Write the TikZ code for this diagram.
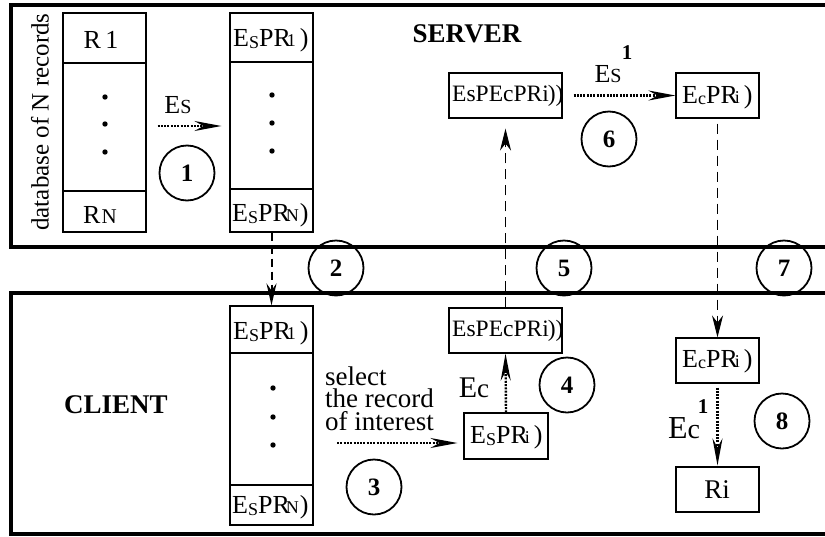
\documentclass[tikz,border=0pt]{standalone}
\usepackage{fontspec}
\setmainfont{Liberation Serif}
\usetikzlibrary{arrows.meta}

% smaller glyphs used inside the record labels
\newcommand\smg[1]{{\fontsize{18}{18}\selectfont #1}}
\newcommand\lowS{\raisebox{-2.5pt}{\smg{S}}}
\newcommand\lowc{\raisebox{-1.5pt}{\smg{c}}}

\begin{document}
\begin{tikzpicture}[x=1pt,y=-1pt,
  frame/.style={line width=4pt},
  recbox/.style={draw, line width=1.1pt, inner sep=0pt, minimum width=83pt, minimum height=45pt},
  listbox/.style={draw, line width=1.1pt, inner sep=0pt, minimum width=83pt, minimum height=219pt},
  txt/.style={font=\fontsize{26}{28}\selectfont, inner sep=0pt},
  bigtxt/.style={font=\fontsize{30}{32}\selectfont, inner sep=0pt},
  title/.style={font=\fontsize{27}{30}\selectfont\bfseries, inner sep=0pt},
  supone/.style={font=\fontsize{21}{21}\selectfont\bfseries, inner sep=0pt},
  stepnum/.style={draw, circle, line width=1.8pt, minimum size=55pt, inner sep=0pt,
                  font=\fontsize{25}{25}\selectfont\bfseries},
  dotarrow/.style={line width=2.4pt, dash pattern=on 2pt off 1.3pt,
                   -{Stealth[length=27pt,width=10pt,inset=9pt]}},
  dasharrow/.style={line width=1pt, dash pattern=on 10pt off 6pt,
                    -{Stealth[length=22pt,width=11pt,inset=7pt]}},
  thickdash/.style={line width=2pt, dash pattern=on 8pt off 5pt,
                    -{Stealth[length=22pt,width=10pt,inset=7pt]}}]

\useasboundingbox (0,0) rectangle (825,536);
\clip (0,0) rectangle (825,536);

% server and client areas
\draw[frame] (11,5) rectangle (845,247);
\draw[frame] (11,293) rectangle (845,534);
\node[title] (server) at (467,34) {SERVER};
\node[title] (client) at (116,405) {CLIENT};

% plain database
\node[rotate=90, txt, font=\fontsize{25}{28}\selectfont] (dblabel) at (40,122) {database of N records};
\node[listbox] (db) at (104.5,122.5) {};
\draw[line width=1.1pt] (63,63) -- (146,63) (63,191) -- (146,191);
\node[txt] (r1) at (101,40) {R\,1};
\node[txt] (rn) at (100,215) {R\kern1pt{\fontsize{21}{21}\selectfont N}};
\foreach \y in {97,124,152} \fill (105,\y) circle (2.7pt);

% encrypted database on the server
\node[listbox] (slist) at (271.5,122.5) {};
\draw[line width=1.1pt] (230,62) -- (313,62) (230,189) -- (313,189);
\node[txt, anchor=west] (s1) at (233,40) {E\lowS PR\kern-4pt\smg{1}\kern4pt)};
\node[txt, anchor=west] (sn) at (232,215) {E\lowS PR\kern-4pt\smg{N}\kern1pt)};
\foreach \y in {95,123,151} \fill (272,\y) circle (2.7pt);

% encrypted database copied to the client
\node[listbox] (clist) at (271.5,415.5) {};
\draw[line width=1.1pt] (230,353) -- (313,353) (230,485) -- (313,485);
\node[txt, anchor=west] (c1) at (233,333) {E\lowS PR\kern-4pt\smg{1}\kern4pt)};
\node[txt, anchor=west] (cn) at (232,507) {E\lowS PR\kern-4pt\smg{N}\kern1pt)};
\foreach \y in {388,417,445} \fill (273,\y) circle (2.7pt);

% single records
\node[recbox, minimum width=113pt] (sEE) at (505.5,95.5) {};
\node[txt, anchor=west, font=\fontsize{23.5}{26}\selectfont] at (452,96) {EsPEcPRi\kern-1pt))};
\node[recbox] (sEc) at (717.5,95.5) {};
\node[txt, anchor=west] at (682,97) {E\lowc PR\kern-3pt\smg{i}\kern4pt)};

\node[recbox, minimum width=113pt] (cEE) at (505.5,330.5) {};
\node[txt, anchor=west, font=\fontsize{23.5}{26}\selectfont] at (452,331) {EsPEcPRi\kern-1pt))};
\node[recbox, minimum width=84pt, minimum height=46pt] (cEs) at (506,436) {};
\node[txt, anchor=west] at (470,437) {E\lowS PR\kern-3pt\smg{i}\kern4pt)};
\node[recbox] (cEc) at (717.5,360.5) {};
\node[txt, anchor=west] at (682,361) {E\lowc PR\kern-3pt\smg{i}\kern4pt)};
\node[recbox] (ri) at (717.5,489.5) {};
\node[txt, font=\fontsize{27}{28}\selectfont] at (717,490) {Ri};

% step 1: encryption on the server
\draw[dotarrow, shorten <=11pt, shorten >=8pt] (db.east |- 0,126) -- (slist.west |- 0,126);
\node[txt] (es1) at (178,105) {E{\fontsize{20}{20}\selectfont S}};

% step 2: transfer to the client
\draw[thickdash] (slist.south) -- (clist.north);

% step 3: selection
\coordinate (selstart) at (337,443);
\draw[dotarrow, shorten >=6pt] (selstart) -- (selstart -| cEs.west);
\node[anchor=base west, align=left, inner sep=0pt,
      font=\fontsize{27}{22.5}\selectfont] (sel) at (325,430)
      {select\\the record\\of interest};

% step 4: client encryption
\draw[dotarrow] (cEs.north) -- (cEE.south);
\node[bigtxt] (ec4) at (474,388) {E{\fontsize{27}{27}\selectfont c}};

% step 5: back to the server
\draw[dasharrow, shorten >=10pt] (cEE.north) -- (sEE.south);

% step 6: server decryption
\draw[dotarrow, shorten <=11pt] (sEE.east) -- (sEc.west);
\node[txt] (es6) at (608,74) {E{\fontsize{20}{20}\selectfont S}};
\node[supone] at (627,53) {1};

% step 7: back to the client
\draw[dasharrow, shorten <=5pt] (sEc.south) -- (cEc.north);

% step 8: client decryption
\draw[dotarrow, shorten <=4pt, shorten >=1pt] (cEc.south) -- (ri.north);
\node[bigtxt, font=\fontsize{32}{32}\selectfont] (ec8) at (684,428) {E{\fontsize{28}{28}\selectfont c}};
\node[supone] at (703,407) {1};

% step numbers
\node[stepnum] (n1) at (187,173) {1};
\node[stepnum] (n2) at (336,268) {2};
\node[stepnum] (n3) at (374,487) {3};
\node[stepnum] (n4) at (567,385) {4};
\node[stepnum] (n5) at (564,268) {5};
\node[stepnum] (n6) at (609,139) {6};
\node[stepnum] (n7) at (784,268) {7};
\node[stepnum] (n8) at (782,421) {8};
\end{tikzpicture}
\end{document}
